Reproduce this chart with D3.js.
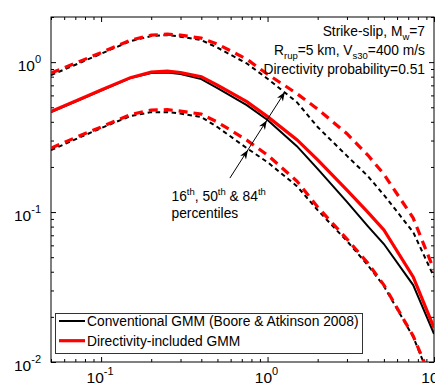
<!DOCTYPE html>
<html>
<head>
<meta charset="utf-8">
<script src="https://cdn.jsdelivr.net/npm/d3@7"></script>
<style>
  body { margin: 0; background: #fff; }
  text { font-family: "Liberation Sans", Arial, Helvetica, sans-serif; fill: #000; }
</style>
</head>
<body>
<div id="chart"></div>
<script>
// periods (s) and spectral accelerations (g)
var periods    = [0.05, 0.075, 0.1, 0.15, 0.2, 0.25, 0.3, 0.4, 0.5, 0.75, 1, 1.5, 2, 3, 4, 5, 7.5, 10];
var convMedian = [0.464, 0.562, 0.646, 0.782, 0.845, 0.854, 0.832, 0.770, 0.671, 0.517, 0.411, 0.275, 0.194, 0.117, 0.0807, 0.0612, 0.0326, 0.0154];
var convP16    = [0.259, 0.316, 0.363, 0.437, 0.464, 0.464, 0.454, 0.430, 0.369, 0.267, 0.215, 0.149, 0.103, 0.0641, 0.0443, 0.0321, 0.0147, 0.0067];
var convP84    = [0.819, 0.992, 1.139, 1.380, 1.491, 1.514, 1.479, 1.402, 1.249, 0.980, 0.775, 0.541, 0.369, 0.237, 0.174, 0.130, 0.0735, 0.0369];
var dirMedian  = [0.468, 0.567, 0.651, 0.788, 0.858, 0.871, 0.851, 0.800, 0.703, 0.545, 0.433, 0.304, 0.223, 0.140, 0.100, 0.0759, 0.0369, 0.0169];
var dirP16     = [0.267, 0.324, 0.369, 0.447, 0.479, 0.482, 0.471, 0.450, 0.398, 0.302, 0.240, 0.161, 0.108, 0.0661, 0.0457, 0.0326, 0.0149, 0.0070];
var dirP84     = [0.845, 1.015, 1.157, 1.402, 1.514, 1.537, 1.514, 1.445, 1.318, 1.047, 0.830, 0.617, 0.486, 0.333, 0.240, 0.179, 0.0912, 0.0411];

var xMajor = [0.1, 1, 10];
var xMajorExp = ["-1", "0", "1"];
var yMajor = [0.01, 0.1, 1];
var yMajorExp = ["-2", "-1", "0"];

var legendLabels = ["Conventional GMM (Boore & Atkinson 2008)", "Directivity-included GMM"];

// arrow: tail, then the three heads (period, Sa)
var arrowTail = [0.594, 0.1686];
var arrowHeads = [[0.762, 0.259], [0.99, 0.408], [1.27, 0.631]];

var width = 435, height = 385;

var x = d3.scaleLog().domain([0.05, 10]).range([51, 434]);
var y = d3.scaleLog().domain([0.01, 2]).range([362, 17]);

var svg = d3.select("#chart").append("svg")
    .attr("width", width)
    .attr("height", height);

svg.append("defs").append("clipPath").attr("id", "plotclip")
  .append("rect")
    .attr("x", x.range()[0]).attr("y", y.range()[1])
    .attr("width", x.range()[1] - x.range()[0])
    .attr("height", y.range()[0] - y.range()[1]);

// ticks, all pointing inwards, on the four sides
function isMajor(v) { return Math.abs(Math.log10(v) - Math.round(Math.log10(v))) < 1e-6; }
var xMinor = x.ticks().filter(function(v) { return !isMajor(v); });
var yMinor = y.ticks().filter(function(v) { return !isMajor(v); });

function addAxis(axis, tx, ty) {
  var g = svg.append("g").attr("transform", "translate(" + tx + "," + ty + ")").call(axis);
  g.select(".domain").remove();
  g.selectAll(".tick line").attr("stroke", "#000").attr("stroke-width", 1);
  g.selectAll(".tick text").remove();
}
[[xMinor, 3], [xMajor, 5]].forEach(function(s) {
  addAxis(d3.axisBottom(x).tickValues(s[0]).tickSize(-s[1]), 0, y.range()[0]);
  addAxis(d3.axisTop(x).tickValues(s[0]).tickSize(-s[1]), 0, y.range()[1]);
});
[[yMinor, 3], [yMajor, 5]].forEach(function(s) {
  addAxis(d3.axisLeft(y).tickValues(s[0]).tickSize(-s[1]), x.range()[0], 0);
  addAxis(d3.axisRight(y).tickValues(s[0]).tickSize(-s[1]), x.range()[1], 0);
});

// box
svg.append("rect")
    .attr("x", x.range()[0]).attr("y", y.range()[1])
    .attr("width", x.range()[1] - x.range()[0])
    .attr("height", y.range()[0] - y.range()[1])
    .attr("fill", "none").attr("stroke", "#000").attr("stroke-width", 1);

// tick labels as 10 with an exponent
function powLabel(sel, exp) {
  sel.append("tspan").text("10");
  sel.append("tspan").attr("dy", -7.5).style("font-size", "11px").text(exp);
}
xMajor.forEach(function(v, i) {
  var t = svg.append("text").attr("x", x(v) - 1).attr("y", 382.5)
      .attr("text-anchor", "middle").style("font-size", "15.5px");
  powLabel(t, xMajorExp[i]);
});
yMajor.forEach(function(v, i) {
  var t = svg.append("text").attr("x", 41).attr("y", y(v) + 8.5)
      .attr("text-anchor", "end").style("font-size", "15.5px");
  powLabel(t, yMajorExp[i]);
});

// curves
var line = d3.line()
    .x(function(d) { return x(d[0]); })
    .y(function(d) { return y(d[1]); });
function pairs(vals) { return periods.map(function(p, i) { return [p, vals[i]]; }); }

var plot = svg.append("g").attr("clip-path", "url(#plotclip)");
var series = [
  { vals: convP84,   color: "#000", w: 2,   dash: "4.5,3.5" },
  { vals: convP16,   color: "#000", w: 2,   dash: "4.5,3.5" },
  { vals: convMedian,color: "#000", w: 2,   dash: null },
  { vals: dirP84,    color: "#f00", w: 3.2, dash: "9,6" },
  { vals: dirP16,    color: "#f00", w: 3.2, dash: "9,6" },
  { vals: dirMedian, color: "#f00", w: 3.2, dash: null }
];
series.forEach(function(s) {
  plot.append("path")
      .datum(pairs(s.vals))
      .attr("d", line)
      .attr("fill", "none")
      .attr("stroke", s.color)
      .attr("stroke-width", s.w)
      .attr("stroke-dasharray", s.dash);
});

// arrow with three heads
var tip = arrowHeads[arrowHeads.length - 1];
svg.append("line")
    .attr("x1", x(arrowTail[0])).attr("y1", y(arrowTail[1]))
    .attr("x2", x(tip[0])).attr("y2", y(tip[1]))
    .attr("stroke", "#000").attr("stroke-width", 1);
var ang = Math.atan2(y(tip[1]) - y(arrowTail[1]), x(tip[0]) - x(arrowTail[0]));
arrowHeads.forEach(function(h) {
  var hx = x(h[0]), hy = y(h[1]);
  var L = 9, W = 3.5;
  var bx = hx - L * Math.cos(ang), by = hy - L * Math.sin(ang);
  var nx = -Math.sin(ang), ny = Math.cos(ang);
  var mx = hx - 0.7 * L * Math.cos(ang), my = hy - 0.7 * L * Math.sin(ang);
  svg.append("path")
      .attr("d", "M" + hx + "," + hy + "L" + (bx + W * nx) + "," + (by + W * ny) +
                 "L" + mx + "," + my + "L" + (bx - W * nx) + "," + (by - W * ny) + "Z")
      .attr("fill", "#000");
});

// percentile note
var note = svg.append("text").attr("x", 171.5).attr("y", 201).style("font-size", "13.8px");
[["16", false], ["th", true], [", 50", false], ["th", true], [" & 84", false], ["th", true]].forEach(function(p) {
  note.append("tspan")
      .attr("dy", p[1] ? -6 : 6)
      .style("font-size", p[1] ? "9.5px" : null)
      .text(p[0]);
});
note.select("tspan").attr("dy", 0);
svg.append("text").attr("x", 171.5).attr("y", 218).style("font-size", "13.8px").text("percentiles");

// scenario text, top right
function richLine(yPos, parts) {
  var t = svg.append("text").attr("x", 425).attr("y", yPos)
      .attr("text-anchor", "end").style("font-size", "13.8px");
  var shift = 0;
  parts.forEach(function(p) {
    var target = p[1] ? 4 : 0;
    t.append("tspan").attr("dy", target - shift)
        .style("font-size", p[1] ? "9.5px" : null).text(p[0]);
    shift = target;
  });
}
richLine(36, [["Strike-slip, M", false], ["w", true], ["=7", false]]);
richLine(55, [["R", false], ["rup", true], ["=5 km, V", false], ["s30", true], ["=400 m/s", false]]);
richLine(74, [["Directivity probability=0.51", false]]);

// legend
var lg = svg.append("g");
lg.append("rect").attr("x", 55.5).attr("y", 313.5).attr("width", 307).attr("height", 40)
    .attr("fill", "#fff").attr("stroke", "#333").attr("stroke-width", 1);
[["#000", 2], ["#f00", 3.2]].forEach(function(s, i) {
  var ly = 321 + i * 19.7;
  lg.append("line").attr("x1", 59).attr("x2", 85).attr("y1", ly).attr("y2", ly)
      .attr("stroke", s[0]).attr("stroke-width", s[1]);
  lg.append("text").attr("x", 87).attr("y", ly + 5.3).style("font-size", "13.8px").text(legendLabels[i]);
});
</script>
</body>
</html>
